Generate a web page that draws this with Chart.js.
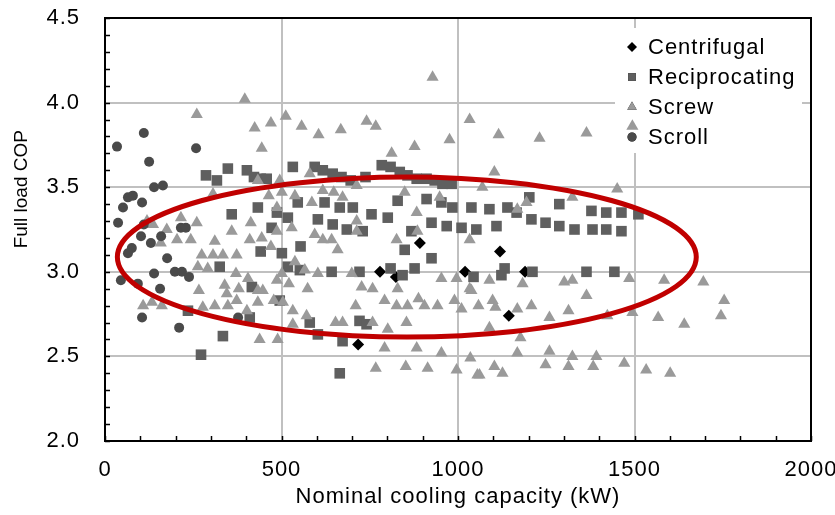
<!DOCTYPE html>
<html>
<head>
<meta charset="utf-8">
<script src="https://cdn.jsdelivr.net/npm/chart.js@4.4.0/dist/chart.umd.min.js"></script>
<style>
  html, body { margin: 0; padding: 0; background: #fff; }
  #wrap { width: 835px; height: 515px; position: relative; }
</style>
</head>
<body>
<div id="wrap"><canvas id="copChart"></canvas></div>
<script>
// 축 범위 / 눈금
const xTicks = [0, 500, 1000, 1500, 2000];
const yTicks = [2.0, 2.5, 3.0, 3.5, 4.0, 4.5];
const xTitle = "Nominal cooling capacity (kW)";
const yTitle = "Full load COP";

// Centrifugal (kW, COP)
const centrifugalKW  = [892, 779, 824, 1020, 1119, 1144, 1190, 717];
const centrifugalCOP = [3.17, 3.00, 2.97, 3.00, 3.12, 2.74, 3.00, 2.57];

// Reciprocating
const reciprocatingKW = [286, 317, 348, 402, 422, 441, 458, 532, 433, 594, 617, 645, 670, 696, 738, 784, 809, 835, 857, 883,
  911, 934, 956, 982, 829, 911, 953, 984, 1038, 622, 665, 702, 546, 1202, 1287, 1089, 1140, 1378, 1420, 1463,
  1511, 1381, 1420, 1463, 1208, 1248, 1287, 1330, 1052, 1109, 1044, 1123, 1132, 1211, 1364, 1443, 1166, 755, 801, 603,
  645, 685, 730, 868, 925, 968, 1010, 554, 849, 925, 552, 642, 721, 809, 843, 877, 721, 603, 673, 665,
  580, 741, 518, 359, 487, 518, 472, 441, 501, 325, 416, 495, 235, 410, 334, 272];
const reciprocatingCOP = [3.57, 3.54, 3.61, 3.60, 3.56, 3.55, 3.55, 3.62, 3.38, 3.62, 3.60, 3.58, 3.56, 3.54, 3.56, 3.63, 3.62, 3.59, 3.57, 3.55,
  3.55, 3.54, 3.52, 3.52, 3.42, 3.43, 3.41, 3.38, 3.38, 3.41, 3.38, 3.38, 3.41, 3.44, 3.40, 3.37, 3.38, 3.36, 3.35, 3.35,
  3.34, 3.25, 3.25, 3.24, 3.31, 3.29, 3.27, 3.25, 3.25, 3.27, 2.97, 2.98, 3.02, 3.00, 3.00, 3.00, 3.35, 3.34, 3.32, 3.31,
  3.28, 3.25, 3.24, 3.24, 3.29, 3.27, 3.26, 3.15, 3.13, 3.08, 3.01, 3.00, 3.00, 3.02, 2.98, 3.02, 2.71, 2.63, 2.59, 2.40,
  2.70, 2.69, 3.03, 3.34, 3.35, 3.32, 3.26, 3.12, 3.11, 3.03, 2.91, 2.83, 2.77, 2.73, 2.62, 2.51];

// Screw
const screwKW = [260, 396, 424, 470, 512, 444, 306, 433, 495, 464, 501, 538, 487, 557, 605, 668, 741, 767, 812, 877,
  976, 1033, 928, 849, 948, 617, 648, 673, 713, 586, 580, 1115, 1231, 1364, 1103, 1069, 1194, 1324, 1451, 1168,
  119, 136, 215, 260, 175, 204, 243, 158, 311, 359, 413, 410, 444, 470, 487, 274, 306, 334, 373, 263,
  291, 371, 405, 339, 379, 266, 345, 433, 447, 487, 501, 521, 373, 433, 478, 504, 108, 133, 161, 277,
  311, 348, 402, 438, 489, 529, 538, 532, 532, 594, 617, 642, 659, 713, 713, 883, 885, 826, 1033, 566,
  603, 699, 574, 727, 758, 829, 953, 996, 1033, 792, 826, 857, 888, 905, 942, 990, 1010, 710, 571, 653,
  673, 758, 854, 801, 792, 883, 953, 1035, 767, 852, 914, 996, 1055, 1089, 1183, 1301, 1324, 1485, 1584, 1364,
  1058, 1098, 1106, 1168, 1208, 1259, 1313, 1423, 1494, 1567, 1089, 1177, 1168, 1259, 1324, 1392, 1248, 1313, 1383, 1471,
  1533, 1061, 1103, 1126, 1601, 1038, 1695, 1754, 1745, 1641, 1494];
const screwCOP = [3.93, 4.02, 3.85, 3.88, 3.92, 3.73, 3.46, 3.54, 3.54, 3.45, 3.47, 3.45, 3.38, 3.86, 3.81, 3.84, 3.89, 3.86, 3.70, 3.74,
  3.78, 3.90, 4.15, 3.47, 3.44, 3.48, 3.47, 3.44, 3.51, 3.41, 3.58, 3.81, 3.79, 3.82, 3.59, 3.50, 3.41, 3.44, 3.49, 3.37,
  3.30, 3.28, 3.32, 3.29, 3.25, 3.19, 3.19, 3.17, 3.18, 3.24, 3.29, 3.19, 3.20, 3.15, 3.24, 3.10, 3.10, 3.10, 3.10, 3.03,
  3.02, 2.99, 2.96, 2.92, 2.90, 2.89, 2.87, 2.89, 2.89, 2.95, 2.99, 2.93, 2.83, 2.82, 2.83, 2.82, 2.80, 2.82, 2.80, 2.79,
  2.80, 2.80, 2.77, 2.60, 2.60, 3.26, 3.06, 2.77, 2.69, 3.22, 3.19, 3.19, 3.13, 3.30, 3.24, 3.35, 3.24, 3.19, 3.19, 3.01,
  2.99, 2.99, 2.90, 2.91, 2.90, 2.90, 2.96, 2.96, 2.90, 2.83, 2.80, 2.80, 2.84, 2.80, 2.80, 2.83, 2.78, 2.80, 2.74, 2.70,
  2.70, 2.70, 2.70, 2.66, 2.55, 2.55, 2.52, 2.49, 2.43, 2.44, 2.43, 2.42, 2.39, 2.95, 2.93, 2.94, 2.95, 2.96, 2.95, 2.86,
  2.80, 2.83, 2.79, 2.78, 2.80, 2.73, 2.77, 2.74, 2.76, 2.73, 2.67, 2.61, 2.52, 2.53, 2.50, 2.50, 2.45, 2.44, 2.44, 2.46,
  2.42, 2.39, 2.44, 2.40, 2.40, 2.89, 2.94, 2.83, 2.74, 2.69, 3.86];

// Scroll
const scrollKW  = [34, 110, 125, 139, 164, 258, 65, 79, 105, 51, 37, 110, 102, 159, 130, 76, 65, 176, 139, 198,
  218, 238, 45, 93, 156, 105, 210, 215, 229, 377];
const scrollCOP = [3.74, 3.82, 3.65, 3.50, 3.51, 3.73, 3.44, 3.45, 3.41, 3.38, 3.29, 3.28, 3.21, 3.21, 3.17, 3.14, 3.11, 3.08, 2.99, 3.00,
  3.00, 2.97, 2.95, 2.93, 2.90, 2.73, 2.67, 3.26, 3.26, 2.73];

// 빨간 타원 (데이터 단위)
const ellipseCenter = [855, 3.087];
const ellipseRadius = [820, 0.473];

const FONT = "'Liberation Sans', Arial, sans-serif";

function toPoints(xs, ys) {
  return xs.map((x, i) => ({ x: x, y: ys[i] }));
}

// 글자 간격 (원본 글자가 약간 넓음)
const wideText = {
  id: "wideText",
  beforeUpdate(chart) { chart.ctx.letterSpacing = "1px"; },
  beforeDraw(chart) { chart.ctx.letterSpacing = "1px"; }
};

// 안쪽 보조 눈금 + 위/오른쪽 테두리 + 세로축 제목
const frameTicks = {
  id: "frameTicks",
  afterDatasetsDraw(chart) {
    const { ctx, chartArea: a, scales } = chart;
    ctx.save();
    ctx.strokeStyle = "#000";
    ctx.lineWidth = 1.5;
    ctx.beginPath();
    for (let v = 0; v <= 2000; v += 100) {
      const px = Math.round(scales.x.getPixelForValue(v)) + 0.5;
      ctx.moveTo(px, a.bottom);
      ctx.lineTo(px, a.bottom - 5);
    }
    for (let k = 0; k <= 25; k++) {
      const py = Math.round(scales.y.getPixelForValue(2 + k * 0.1)) + 0.5;
      ctx.moveTo(a.left, py);
      ctx.lineTo(a.left + 5, py);
    }
    ctx.stroke();
    ctx.lineWidth = 2;
    ctx.strokeRect(a.left, a.top, a.right - a.left, a.bottom - a.top);

    // y축 제목: 원본은 가운데보다 위쪽
    ctx.translate(22, scales.y.getPixelForValue(3.5) + 2);
    ctx.rotate(-Math.PI / 2);
    ctx.font = "19px " + FONT;
    ctx.letterSpacing = "0px";
    ctx.fillStyle = "#000";
    ctx.textAlign = "center";
    ctx.textBaseline = "middle";
    ctx.fillText(yTitle, 0, 0);
    ctx.restore();
  }
};

// 타원 표시
const ellipseMark = {
  id: "ellipseMark",
  afterDatasetsDraw(chart) {
    const { ctx, scales } = chart;
    const cx = scales.x.getPixelForValue(ellipseCenter[0]);
    const cy = scales.y.getPixelForValue(ellipseCenter[1]);
    const rx = scales.x.getPixelForValue(ellipseCenter[0] + ellipseRadius[0]) - cx;
    const ry = cy - scales.y.getPixelForValue(ellipseCenter[1] + ellipseRadius[1]);
    ctx.save();
    ctx.strokeStyle = "#c00000";
    ctx.lineWidth = 5;
    ctx.beginPath();
    ctx.ellipse(cx, cy, rx, ry, 0, 0, Math.PI * 2);
    ctx.stroke();
    ctx.restore();
  }
};

// 범례 (흰 배경, 데이터보다 먼저 그림)
const boxLegend = {
  id: "boxLegend",
  beforeDatasetsDraw(chart) {
    const { ctx, chartArea: a } = chart;
    const left = a.right - 196, top = a.top + 10;
    ctx.save();
    ctx.fillStyle = "#fff";
    ctx.fillRect(left, top, 187, 125);
    ctx.font = "22px " + FONT;
    ctx.textBaseline = "middle";
    chart.data.datasets.forEach((ds, i) => {
      const y = top + 19 + i * 30;
      Chart.helpers.drawPoint(ctx, {
        pointStyle: ds.pointStyle,
        radius: ds.legendRadius,
        borderWidth: 0
      }, left + 17, y);
      ctx.fillStyle = ds.backgroundColor;
      ctx.fill();
      ctx.fillStyle = "#000";
      ctx.fillText(ds.label, left + 33, y + 1);
    });
    ctx.restore();
  }
};

new Chart(document.getElementById("copChart"), {
  type: "scatter",
  data: {
    datasets: [
      { label: "Centrifugal", data: toPoints(centrifugalKW, centrifugalCOP), pointStyle: "rectRot",
        pointRadius: 6, legendRadius: 5, backgroundColor: "#000000", borderWidth: 0, order: 4 },
      { label: "Reciprocating", data: toPoints(reciprocatingKW, reciprocatingCOP), pointStyle: "rect",
        pointRadius: 7.5, legendRadius: 5.5, backgroundColor: "#5f5f5f", borderWidth: 0, order: 3 },
      { label: "Screw", data: toPoints(screwKW, screwCOP), pointStyle: "triangle",
        pointRadius: 7, legendRadius: 5.5, backgroundColor: "#9a9a9a", borderWidth: 0, order: 2 },
      { label: "Scroll", data: toPoints(scrollKW, scrollCOP), pointStyle: "circle",
        pointRadius: 5, legendRadius: 4.5, backgroundColor: "#4a4a4a", borderWidth: 0, order: 1 }
    ]
  },
  options: {
    responsive: true,
    maintainAspectRatio: false,
    animation: false,
    events: [],
    layout: { padding: { left: 0, top: 18, right: 24, bottom: 0 } },
    plugins: { legend: { display: false }, tooltip: { enabled: false } },
    scales: {
      x: {
        type: "linear",
        min: 0,
        max: 2000,
        afterBuildTicks: (s) => { s.ticks = xTicks.map((v) => ({ value: v })); },
        afterFit: (s) => { s.height = 74; s.paddingLeft = 0; s.paddingRight = 0; },
        ticks: { color: "#000", font: { family: FONT, size: 22 }, padding: 16, maxRotation: 0,
          callback: (v) => String(v) },
        grid: { color: "#c0c0c0", lineWidth: 2, drawTicks: false },
        border: { color: "#000", width: 2 },
        title: { display: true, text: xTitle, color: "#000",
          font: { family: FONT, size: 22 }, padding: { top: 0, bottom: 5 } }
      },
      y: {
        min: 2,
        max: 4.5,
        afterBuildTicks: (s) => { s.ticks = yTicks.map((v) => ({ value: v })); },
        afterFit: (s) => { s.width = 105; s.paddingTop = 0; s.paddingBottom = 0; },
        ticks: { color: "#000", font: { family: FONT, size: 22 }, padding: 25,
          callback: (v) => Number(v).toFixed(1) },
        grid: { color: "#c0c0c0", lineWidth: 2, drawTicks: false },
        border: { color: "#000", width: 2 },
        title: { display: false }
      }
    }
  },
  plugins: [wideText, boxLegend, frameTicks, ellipseMark]
});
</script>
</body>
</html>
